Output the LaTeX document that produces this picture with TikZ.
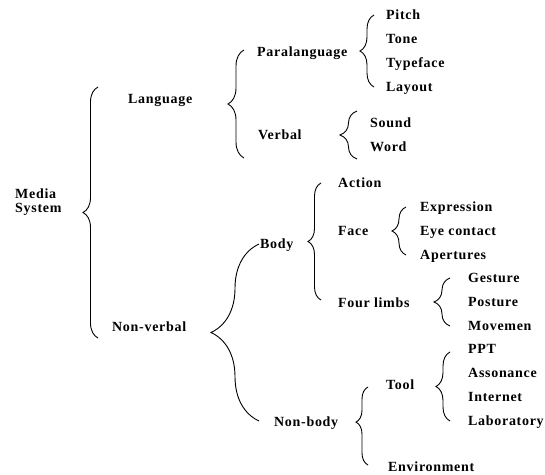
\documentclass[tikz,border=0pt]{standalone}
\usepackage{fontspec}
\newfontfamily\lblfont[LetterSpace=5]{Liberation Serif}
\usepackage{tikz}
\usetikzlibrary{decorations.pathreplacing,calc}

\begin{document}
\begin{tikzpicture}[x=1pt, y=1pt,
    lbl/.style={anchor=west, inner sep=0pt, font=\lblfont\bfseries\fontsize{14}{14}\selectfont, text height=9pt, text depth=0pt},
    brc/.style={decorate, decoration={brace, amplitude=#1}, line width=0.9pt}]
    \useasboundingbox (0,0) rectangle (545,474);

    % level 0 and 1
    \node[anchor=west, inner sep=0pt, align=left, font=\lblfont\bfseries\fontsize{14}{14}\selectfont] (media) at (15,272) {Media\\System};
    \node[lbl] (language) at (128,375) {Language};
    \node[lbl] (nonverbal) at (112,147) {Non-verbal};

    % language side
    \node[lbl] (paralang) at (257,422) {Paralanguage};
    \node[lbl] (verbal) at (258,339) {Verbal};
    \node[lbl] (pitch) at (386,459) {Pitch};
    \node[lbl] (tone) at (386,435) {Tone};
    \node[lbl] (typeface) at (386,411) {Typeface};
    \node[lbl] (layout) at (386,387) {Layout};
    \node[lbl] (sound) at (370,351) {Sound};
    \node[lbl] (word) at (370,327) {Word};

    % non-verbal side
    \node[lbl] (body) at (260,230) {Body};
    \node[lbl] (nonbody) at (274,52) {Non-body};
    \node[lbl] (action) at (338,291) {Action};
    \node[lbl] (face) at (338,243) {Face};
    \node[lbl] (limbs) at (338,171) {Four limbs};
    \node[lbl] (expression) at (420,267) {Expression};
    \node[lbl] (eyecontact) at (420,243) {Eye contact};
    \node[lbl] (apertures) at (420,219) {Apertures};
    \node[lbl] (gesture) at (468,196) {Gesture};
    \node[lbl] (posture) at (468,172) {Posture};
    \node[lbl] (movemen) at (468,148) {Movemen};
    \node[lbl] (tool) at (386,89) {Tool};
    \node[lbl] (environment) at (388,7) {Environment};
    \node[lbl] (ppt) at (468,125) {PPT};
    \node[lbl] (assonance) at (468,101) {Assonance};
    \node[lbl] (internet) at (468,77) {Internet};
    \node[lbl] (laboratory) at (468,53) {Laboratory};

    % braces
    \draw[brc=15] ([xshift=-14pt,yshift=-11pt]nonverbal.west) -- ([xshift=-30pt,yshift=12pt]language.west);
    \draw[brc=16] ([xshift=-14pt,yshift=-23pt]verbal.west) -- ([xshift=-13pt,yshift=2pt]paralang.west);
    \draw[brc=14] ([xshift=-12pt]layout.west) -- ([xshift=-12pt]pitch.west);
    \draw[brc=17] ([xshift=-13pt,yshift=-12pt]word.west) -- ([xshift=-13pt,yshift=12pt]sound.west);
    \draw[brc=48] ([xshift=-15pt,yshift=1pt]nonbody.west) -- ([xshift=-1pt]body.west);
    \draw[brc=13] ([xshift=-17pt,yshift=3pt]limbs.west) -- ([xshift=-17pt]action.west);
    \draw[brc=14] ([xshift=-14pt]apertures.west) -- ([xshift=-14pt]expression.west);
    \draw[brc=16] ([xshift=-18pt]movemen.west) -- ([xshift=-18pt]gesture.west);
    \draw[brc=12, decoration={aspect=0.55}] ([xshift=-20pt,yshift=2pt]environment.west) -- ([xshift=-18pt,yshift=-2pt]tool.west);
    \draw[brc=14] ([xshift=-18pt]laboratory.west) -- ([xshift=-18pt,yshift=-3pt]ppt.west);
\end{tikzpicture}
\end{document}
